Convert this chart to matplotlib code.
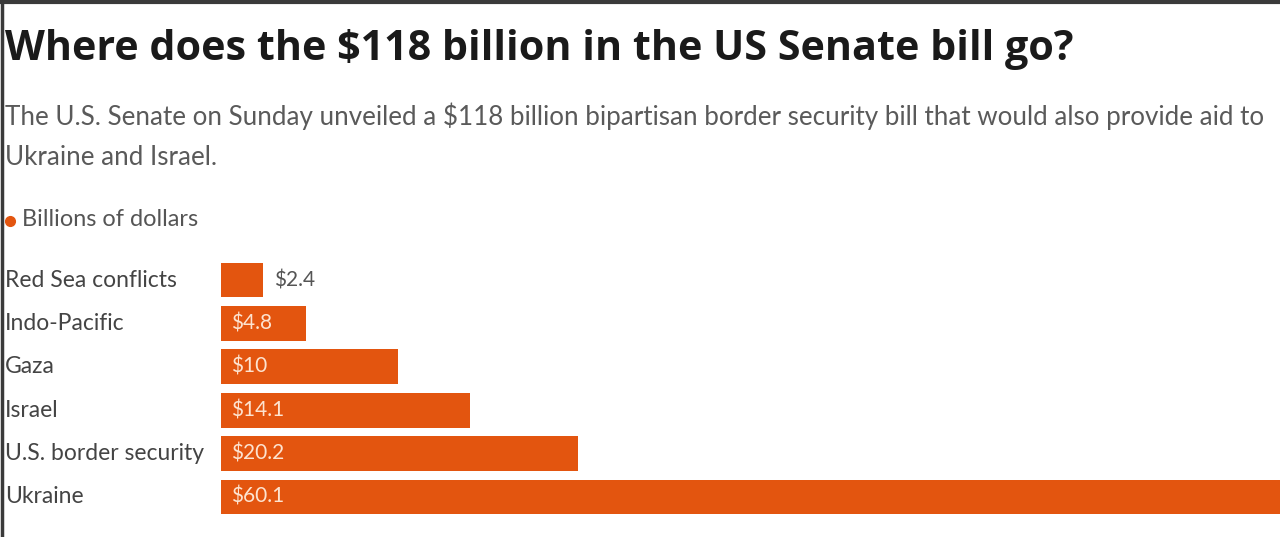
import matplotlib.pyplot as plt
from matplotlib.lines import Line2D

# data (billions of dollars)
categories = ['Red Sea conflicts', 'Indo-Pacific', 'Gaza', 'Israel',
              'U.S. border security', 'Ukraine']
values = [2.4, 4.8, 10, 14.1, 20.2, 60.1]
value_labels = ['$2.4', '$4.8', '$10', '$14.1', '$20.2', '$60.1']

bar_color = '#e3550f'
plt.rcParams['font.family'] = ['Lato', 'DejaVu Sans']

fig = plt.figure(figsize=(12.8, 5.37), dpi=100)

# title / subtitle
fig.text(5/1280, 1 - 50/537, 'Where does the $118 billion in the US Senate bill go?',
         fontsize=29.7, fontweight='bold', color='#1a1a1a', va='center', ha='left',
         family=['Open Sans', 'DejaVu Sans'])
fig.text(5/1280, 1 - 116/537,
         'The U.S. Senate on Sunday unveiled a $118 billion bipartisan border security bill that would also provide aid to',
         fontsize=18.7, color='#5a5a5a', va='center', ha='left')
fig.text(5/1280, 1 - 157/537, 'Ukraine and Israel.',
         fontsize=18.7, color='#5a5a5a', va='center', ha='left')

# legend
fig.add_artist(Line2D([10/1280], [1 - 221/537], marker='o', markersize=7,
                      color=bar_color, transform=fig.transFigure))
fig.text(22/1280, 1 - 220/537, 'Billions of dollars', fontsize=16.9, color='#555555',
         va='center', ha='left')

# frame lines on top and left
fig.add_artist(Line2D([0, 1], [1 - 2/537, 1 - 2/537], color='#3a3a3a', lw=3,
                      transform=fig.transFigure))
fig.add_artist(Line2D([2/1280, 2/1280], [0, 1], color='#3a3a3a', lw=2.5,
                      transform=fig.transFigure))

ax = fig.add_axes([221/1280, 14/537, 1 - 221/1280, 269/537])
y = list(range(len(categories)))
ax.barh(y, values, height=0.8, color=bar_color)
ax.set_xlim(0, 60)
ax.set_ylim(5.6, -0.6)
ax.axis('off')

for i, (v, lab) in enumerate(zip(values, value_labels)):
    # category names sit left of the bars, at x = 5 px in the figure
    ax.text(-216/17.65, i, categories[i], fontsize=16.5, color='#444444',
            va='center', ha='left', clip_on=False)
    if v < 3:
        ax.text(v + 0.6, i, lab, fontsize=15, color='#555555', va='center', ha='left')
    else:
        ax.text(0.55, i, lab, fontsize=15, color='#fde3d0', va='center', ha='left')

fig.savefig('out.png', dpi=100)
